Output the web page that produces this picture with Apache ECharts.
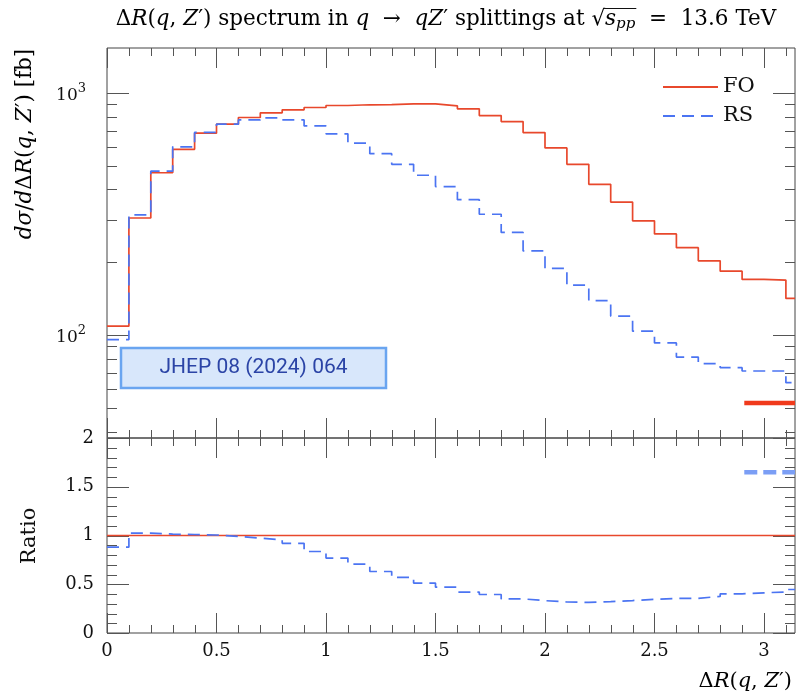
<!DOCTYPE html>
<html><head><meta charset="utf-8">
<script src="https://cdn.jsdelivr.net/npm/echarts@6/dist/echarts.min.js"></script>
<style>html,body{margin:0;padding:0;background:#fff}#c{width:796px;height:692px}</style>
</head><body><div id="c"></div>
<script>
// ---- data ----
const binEdges = [0,0.1,0.2,0.3,0.4,0.5,0.6,0.7,0.8,0.9,1.0,1.1,1.2,1.3,1.4,1.5,1.6,1.7,1.8,1.9,2.0,2.1,2.2,2.3,2.4,2.5,2.6,2.7,2.8,2.9,3.0,3.1,3.14159];
const foValues = [109,305,469,586,683,744,793,829,853,872,889,895,897,903,903,886,861,808,763,687,594,508,420,355,297,262,230,203,184,170,169,142];
const rsValues = [96,314,476,600,689,744,775,790,775,732,679,621,562,508,458,411,363,316,266,223,189,161,139,120,104,93,81.3,76.4,73.5,71.2,71.2,63.7];
const ratioRS = [0.88,1.025,1.014,1.01,1.005,0.99,0.973,0.956,0.92,0.836,0.768,0.707,0.631,0.57,0.512,0.47,0.42,0.395,0.35,0.332,0.318,0.314,0.322,0.333,0.345,0.355,0.356,0.375,0.402,0.412,0.421,0.446];
const ratioFOLevel = 1;
const foMarkerX = [2.91, 3.14159];
const foMarkerY = 52.5;
const rsRatioMarkerX = [2.91, 3.14159];
const rsRatioMarkerY = 1.65;

const xMajorTicks = [0,0.5,1,1.5,2,2.5,3];
const xMinorTicks = [0.1,0.2,0.3,0.4,0.6,0.7,0.8,0.9,1.1,1.2,1.3,1.4,1.6,1.7,1.8,1.9,2.1,2.2,2.3,2.4,2.6,2.7,2.8,2.9,3.1];
const yMajorTicks = [100,1000];
const yMinorTicks = [40,50,60,70,80,90,200,300,400,500,600,700,800,900];
const ratioMajorTicks = [0,0.5,1,1.5,2];
const ratioMinorTicks = [0.1,0.2,0.3,0.4,0.6,0.7,0.8,0.9,1.1,1.2,1.3,1.4,1.6,1.7,1.8,1.9];

const X_MIN = 0, X_MAX = 3.14159;
const Y_MIN = 37.65, Y_MAX = 1535.6;
const R_MIN = 0, R_MAX = 2;

// ---- styles ----
const RED = '#e8482c', BLUE = '#4b74f2', LIGHTBLUE = '#7b9ef5';
const TICK = '#555';
const SERIF = '"DejaVu Serif", "Liberation Serif", serif';
const TICK_LEN = { xMajor: 20, xMinor: 8, yMajor: 22, yMinor: 10 };

function hist(edges, vals) {
  const pts = [];
  for (let i = 0; i < vals.length; i++) {
    pts.push([edges[i], vals[i]]);
    pts.push([edges[i + 1], vals[i]]);
  }
  return pts;
}

// tick items: [x, y, kind]; kind 0 x-major, 1 x-minor, 2 y-major, 3 y-minor
function tickItems(xMaj, xMin, yMaj, yMin, yRef, xRef) {
  const out = [];
  xMaj.forEach(v => out.push([v, yRef, 0]));
  xMin.forEach(v => out.push([v, yRef, 1]));
  yMaj.forEach(v => out.push([xRef, v, 2]));
  yMin.forEach(v => out.push([xRef, v, 3]));
  return out;
}
function renderTick(params, api) {
  const kind = api.value(2);
  const p = api.coord([api.value(0), api.value(1)]);
  const cs = params.coordSys;
  const st = { stroke: TICK, lineWidth: 1 };
  if (kind < 2) {
    const len = kind === 0 ? TICK_LEN.xMajor : TICK_LEN.xMinor;
    const x = Math.round(p[0]) + 0.5, yb = cs.y + cs.height, yt = cs.y;
    return { type: 'group', children: [
      { type: 'line', shape: { x1: x, y1: yb, x2: x, y2: yb - len }, style: st },
      { type: 'line', shape: { x1: x, y1: yt, x2: x, y2: yt + len }, style: st }
    ] };
  }
  const len = kind === 2 ? TICK_LEN.yMajor : TICK_LEN.yMinor;
  const y = Math.round(p[1]) + 0.5, xl = cs.x, xr = cs.x + cs.width;
  return { type: 'group', children: [
    { type: 'line', shape: { x1: xl, y1: y, x2: xl + len, y2: y }, style: st },
    { type: 'line', shape: { x1: xr, y1: y, x2: xr - len, y2: y }, style: st }
  ] };
}

const xAxes = [
  { type: 'value', gridIndex: 0, min: X_MIN, max: X_MAX, axisLine: { show: false }, axisTick: { show: false }, splitLine: { show: false }, axisLabel: { show: false } },
  { type: 'value', gridIndex: 1, min: X_MIN, max: X_MAX, axisLine: { show: false }, axisTick: { show: false }, splitLine: { show: false },
    axisLabel: { show: true, customValues: xMajorTicks, margin: 9, fontFamily: SERIF, fontSize: 18, color: '#111' } }
];
const yAxes = [
  { type: 'log', logBase: 10, gridIndex: 0, min: Y_MIN, max: Y_MAX, axisLine: { show: false }, axisTick: { show: false }, splitLine: { show: false },
    axisLabel: {
      show: true, customValues: yMajorTicks, margin: 21,
      formatter: v => '{b|10}{s|' + Math.round(Math.log10(v)) + '}',
      rich: {
        b: { fontFamily: SERIF, fontSize: 17, color: '#111', lineHeight: 22, verticalAlign: 'bottom' },
        s: { fontFamily: SERIF, fontSize: 13, color: '#111', lineHeight: 22, verticalAlign: 'top' }
      }
    } },
  { type: 'value', gridIndex: 1, min: R_MIN, max: R_MAX, axisLine: { show: false }, axisTick: { show: false }, splitLine: { show: false },
    axisLabel: { show: true, customValues: ratioMajorTicks, margin: 13, fontFamily: SERIF, fontSize: 18, color: '#111' } }
];

const dashRS = [12, 7];

const series = [
  { name: 'ticksTop', type: 'custom', xAxisIndex: 0, yAxisIndex: 0, renderItem: renderTick, silent: true, z: 1,
    encode: { x: 0, y: 1 }, data: tickItems(xMajorTicks, xMinorTicks, yMajorTicks, yMinorTicks, 100, X_MIN) },
  { name: 'ticksBottom', type: 'custom', xAxisIndex: 1, yAxisIndex: 1, renderItem: renderTick, silent: true, z: 1,
    encode: { x: 0, y: 1 }, data: tickItems(xMajorTicks, xMinorTicks, ratioMajorTicks, ratioMinorTicks, 1, X_MIN) },
  { name: 'FO', type: 'line', xAxisIndex: 0, yAxisIndex: 0, data: hist(binEdges, foValues), showSymbol: false, symbol: 'none',
    lineStyle: { color: RED, width: 1.7 }, itemStyle: { color: RED }, z: 3 },
  { name: 'RS', type: 'line', xAxisIndex: 0, yAxisIndex: 0, data: hist(binEdges, rsValues), showSymbol: false, symbol: 'none',
    lineStyle: { color: BLUE, width: 1.7, type: dashRS }, itemStyle: { color: BLUE }, z: 4 },
  { name: 'FOmark', type: 'line', xAxisIndex: 0, yAxisIndex: 0, data: [[foMarkerX[0], foMarkerY], [foMarkerX[1], foMarkerY]], showSymbol: false, symbol: 'none',
    lineStyle: { color: '#f03a1c', width: 4.5 }, z: 3 },
  { name: 'FO', type: 'line', xAxisIndex: 1, yAxisIndex: 1, data: [[X_MIN, ratioFOLevel], [X_MAX, ratioFOLevel]], showSymbol: false, symbol: 'none',
    lineStyle: { color: RED, width: 1.7 }, z: 3 },
  { name: 'RS', type: 'line', xAxisIndex: 1, yAxisIndex: 1, data: hist(binEdges, ratioRS), showSymbol: false, symbol: 'none',
    lineStyle: { color: BLUE, width: 1.7, type: dashRS }, z: 4 },
  { name: 'RSmark', type: 'line', xAxisIndex: 1, yAxisIndex: 1, data: [[rsRatioMarkerX[0], rsRatioMarkerY], [rsRatioMarkerX[1], rsRatioMarkerY]], showSymbol: false, symbol: 'none',
    lineStyle: { color: LIGHTBLUE, width: 4.5, type: [13, 6] }, z: 3 }
];

const richMath = (size) => ({
  n: { fontFamily: SERIF, fontSize: size, color: '#111' },
  i: { fontFamily: SERIF, fontSize: size, fontStyle: 'italic', color: '#111' },
  sub: { fontFamily: SERIF, fontSize: Math.round(size * 0.7), fontStyle: 'italic', color: '#111', verticalAlign: 'bottom', padding: [Math.round(size * 0.45), 0, 0, 0] }
});

// title pieces (style, text) -> rich string; measured to place the radical's overline
const TITLE_SIZE = 21.5;
const titlePieces = [['n','Δ'],['i','R'],['n','('],['i','q'],['n',', '],['i','Z'],['n','′) spectrum in '],['i','q'],['n','  →  '],['i','qZ'],['n','′ splittings at √'],['i','s'],['sub','pp'],['n','  =  13.6 TeV']];
const TITLE_CX = 446, TITLE_CY = 19;
const mctx = document.createElement('canvas').getContext('2d');
function pieceWidth(p) {
  const sz = p[0] === 'sub' ? Math.round(TITLE_SIZE * 0.7) : TITLE_SIZE;
  mctx.font = (p[0] === 'n' ? '' : 'italic ') + sz + 'px ' + SERIF;
  return mctx.measureText(p[1]).width;
}
const widths = titlePieces.map(pieceWidth);
const totalW = widths.reduce((a, b) => a + b, 0);
let acc = TITLE_CX - totalW / 2, sqrtEnd = 0, ppEnd = 0;
titlePieces.forEach((p, k) => { acc += widths[k]; if (k === 10) sqrtEnd = acc; if (k === 12) ppEnd = acc; });

const chart = echarts.init(document.getElementById('c'), null, { renderer: 'canvas' });
chart.setOption({
  animation: false,
  backgroundColor: '#fff',
  grid: [
    { left: 107, top: 48, width: 688, height: 390, show: true, borderColor: '#444', borderWidth: 1, containLabel: false },
    { left: 107, top: 438, width: 688, height: 195, show: true, borderColor: '#444', borderWidth: 1, containLabel: false }
  ],
  xAxis: xAxes,
  yAxis: yAxes,
  legend: {
    data: ['FO', 'RS'], orient: 'vertical', left: 657, top: 71, itemWidth: 55, itemHeight: 14, itemGap: 7,
    itemStyle: { opacity: 0 },
    textStyle: { fontFamily: SERIF, fontSize: 21, lineHeight: 22, color: '#111' }, selectedMode: false
  },
  series: series,
  graphic: [
    { type: 'text', x: TITLE_CX, y: TITLE_CY, style: {
      text: titlePieces.map(p => '{' + p[0] + '|' + p[1] + '}').join(''),
      rich: richMath(TITLE_SIZE), align: 'center', verticalAlign: 'middle' } },
    { type: 'line', shape: { x1: sqrtEnd - 1, y1: 8.5, x2: ppEnd + 1, y2: 8.5 }, style: { stroke: '#111', lineWidth: 1 } },
    { type: 'text', x: 25, y: 144, rotation: Math.PI / 2, style: {
      text: '{i|dσ}{n|/}{i|d}{n|Δ}{i|R}{n|(}{i|q}{n|, }{i|Z}{n|′) [fb]}', rich: richMath(21.5), align: 'center', verticalAlign: 'middle' } },
    { type: 'text', x: 30, y: 536, rotation: Math.PI / 2, style: {
      text: 'Ratio', fontFamily: SERIF, fontSize: 21, fill: '#111', align: 'center', verticalAlign: 'middle' } },
    { type: 'text', x: 792, y: 682, style: {
      text: '{n|Δ}{i|R}{n|(}{i|q}{n|, }{i|Z}{n|′)}', rich: richMath(21), align: 'right', verticalAlign: 'middle' } },
    { type: 'group', children: [
      { type: 'rect', shape: { x: 121, y: 348, width: 265, height: 40 }, style: { fill: '#d8e7fb', stroke: '#6aa5f0', lineWidth: 2.5 } },
      { type: 'text', x: 253.5, y: 368, style: { text: 'JHEP 08 (2024) 064', fontFamily: 'Roboto, sans-serif', fontSize: 21, fill: '#2b44a6', align: 'center', verticalAlign: 'middle' } }
    ] }
  ]
});
</script></body></html>
